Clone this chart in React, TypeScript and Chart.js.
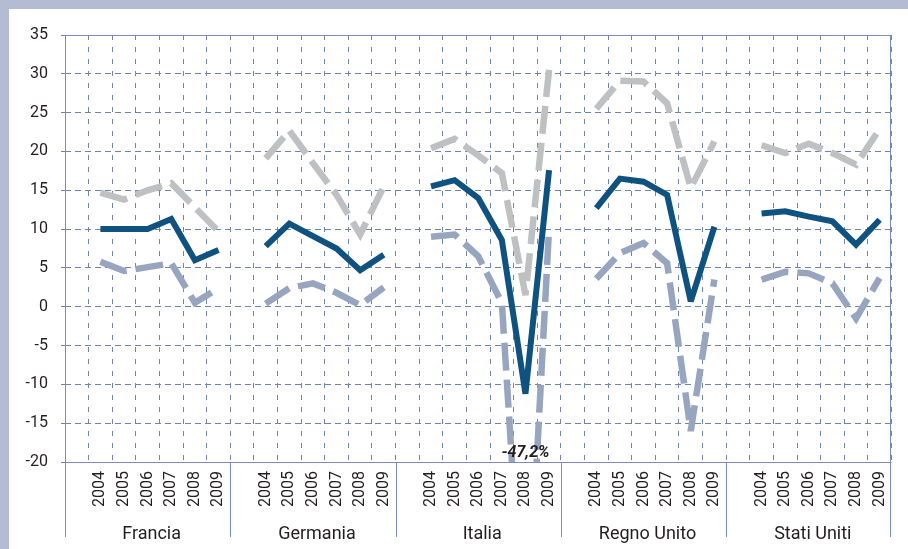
import React, { useEffect, useRef } from 'react';
import { Chart, registerables } from 'chart.js';

Chart.register(...registerables);

// ---- data ----
const groups = ['Francia', 'Germania', 'Italia', 'Regno Unito', 'Stati Uniti'];
const years = ['2004', '2005', '2006', '2007', '2008', '2009'];
const yMin = -20;
const yMax = 35;
const yStep = 5;

// central (solid dark line)
const franciaMid = [10, 10, 10, 11.3, 6, 7.3];
const germaniaMid = [7.8, 10.7, 9.1, 7.5, 4.7, 6.7];
const italiaMid = [15.5, 16.3, 14.0, 8.6, -11.2, 17.6];
const regnoUnitoMid = [12.7, 16.5, 16.1, 14.4, 0.7, 10.3];
const statiUnitiMid = [12.0, 12.3, 11.6, 11.0, 8.0, 11.2];

// upper (light grey dashed)
const franciaHigh = [14.7, 13.8, 15.0, 15.9, 12.8, 9.7];
const germaniaHigh = [19.1, 22.7, 18.5, 14.4, 9.3, 15.5];
const italiaHigh = [20.4, 21.6, 19.5, 17.2, 1.5, 30.5];
const regnoUnitoHigh = [25.5, 29.1, 29.0, 26.2, 15.3, 21.3];
const statiUnitiHigh = [20.8, 19.8, 21.0, 19.8, 18.3, 22.9];

// lower (blue-grey dashed)
const franciaLow = [5.8, 4.6, 5.1, 5.6, 0.5, 2.4];
const germaniaLow = [0.4, 2.4, 3.0, 1.8, 0.2, 2.5];
const italiaLow = [9.0, 9.3, 6.5, 0.5, -47.2, 10.1];
const regnoUnitoLow = [3.6, 6.9, 8.2, 5.6, -16.0, 3.5];
const statiUnitiLow = [3.5, 4.5, 4.3, 3.0, -1.5, 3.7];

const outlierLabel = '-47,2%';
const outlierGroup = 2; // Italia
const outlierYear = 4; // 2008
const outlierLabelValue = -18.9;

const midSeries = [franciaMid, germaniaMid, italiaMid, regnoUnitoMid, statiUnitiMid];
const highSeries = [franciaHigh, germaniaHigh, italiaHigh, regnoUnitoHigh, statiUnitiHigh];
const lowSeries = [franciaLow, germaniaLow, italiaLow, regnoUnitoLow, statiUnitiLow];

// ---- styles ----
const FRAME = '#b3bcd3';
const GRID = '#6d85ae';
const AXIS = '#7a8db3';
const TEXT = '#231f20';
const DARK = '#10527f';
const LIGHT = '#bfc0c2';
const BLUEGREY = '#98a5bf';
const FONT = 'Roboto';

const slotsPerGroup = years.length + 1;
const labels = groups.flatMap(() => ['', ...years]);
const flatten = (arr: number[][]) => arr.flatMap((g) => [null, ...g]);

const miterPlugin = {
  id: 'miter',
  beforeDatasetsDraw(chart: any) {
    chart.ctx.miterLimit = 3;
  },
};

const overlayPlugin = {
  id: 'overlay',
  afterDraw(chart: any) {
    const { ctx, chartArea, scales } = chart;
    const { left, right, top, bottom } = chartArea;
    const x = scales.x;
    const y = scales.y;
    const half = (x.getPixelForValue(1) - x.getPixelForValue(0)) / 2;
    const boundary = (k: number) => x.getPixelForValue(k) - half;
    const al = (v: number) => Math.round(v) + 0.5;
    ctx.save();
    ctx.setLineDash([]);
    ctx.strokeStyle = AXIS;
    ctx.lineWidth = 1;
    ctx.beginPath();
    ctx.moveTo(left, al(top));
    ctx.lineTo(right, al(top));
    ctx.moveTo(left, al(bottom));
    ctx.lineTo(right, al(bottom));
    for (let g = 0; g <= groups.length; g++) {
      const bx = al(g === groups.length ? right - 1 : boundary(g * slotsPerGroup));
      const y0 = g === 0 || g === groups.length ? top : bottom;
      ctx.moveTo(bx, y0);
      ctx.lineTo(bx, bottom + 75);
    }
    ctx.stroke();

    ctx.fillStyle = TEXT;
    ctx.font = `18px ${FONT}`;
    ctx.textAlign = 'center';
    ctx.textBaseline = 'middle';
    groups.forEach((name, g) => {
      const cx = (boundary(g * slotsPerGroup) + boundary((g + 1) * slotsPerGroup)) / 2 + 4;
      ctx.fillText(name, cx, bottom + 72);
    });

    ctx.font = `italic bold 16px ${FONT}`;
    const ox = x.getPixelForValue(outlierGroup * slotsPerGroup + 1 + outlierYear);
    ctx.fillText(outlierLabel, ox, y.getPixelForValue(outlierLabelValue));
    ctx.restore();
  },
};

export default function App() {
  const ref = useRef<HTMLCanvasElement | null>(null);

  useEffect(() => {
    document.body.style.margin = '0';
    if (!ref.current) return;
    const chart = new Chart(ref.current, {
      type: 'line',
      data: {
        labels,
        datasets: [
          {
            data: flatten(midSeries),
            borderColor: DARK,
            borderWidth: 6,
            borderJoinStyle: 'miter',
            pointRadius: 0,
            tension: 0,
            spanGaps: false,
            clip: 0,
          },
          {
            data: flatten(lowSeries),
            borderColor: BLUEGREY,
            borderWidth: 6.5,
            borderDash: [28, 9],
            borderJoinStyle: 'miter',
            pointRadius: 0,
            tension: 0,
            spanGaps: false,
            clip: 0,
          },
          {
            data: flatten(highSeries),
            borderColor: LIGHT,
            borderWidth: 6.5,
            borderDash: [28, 9],
            borderJoinStyle: 'miter',
            pointRadius: 0,
            tension: 0,
            spanGaps: false,
            clip: 0,
          },
        ],
      },
      options: {
        animation: false,
        responsive: false,
        devicePixelRatio: 1,
        layout: { padding: { top: 26, right: 10, left: 0, bottom: 0 } },
        plugins: { legend: { display: false }, tooltip: { enabled: false }, title: { display: false } },
        scales: {
          x: {
            type: 'category',
            offset: true,
            grid: { offset: true, color: GRID, lineWidth: 1, drawTicks: false },
            border: { display: false, dash: [5, 7] },
            ticks: {
              autoSkip: false,
              maxRotation: 90,
              minRotation: 90,
              padding: 9,
              color: TEXT,
              font: { family: FONT, size: 16 },
            },
            afterFit: (s: any) => {
              s.height = 87;
            },
          },
          y: {
            min: yMin,
            max: yMax,
            ticks: {
              stepSize: yStep,
              padding: 13,
              color: TEXT,
              font: { family: FONT, size: 16 },
            },
            grid: { color: GRID, lineWidth: 1, tickLength: 4, tickColor: GRID },
            border: { display: false, dash: [6, 4] },
            afterFit: (s: any) => {
              s.width = 56;
            },
          },
        },
      },
      plugins: [miterPlugin, overlayPlugin],
    });
    return () => chart.destroy();
  }, []);

  return (
    <div style={{ position: 'fixed', left: 0, top: 0, width: 908, height: 549, background: FRAME, overflow: 'hidden' }}>
      <div style={{ position: 'absolute', left: 9, top: 9, width: 899, height: 540, background: '#ffffff' }}>
        <canvas ref={ref} width={899} height={540} style={{ display: 'block' }} />
      </div>
    </div>
  );
}
